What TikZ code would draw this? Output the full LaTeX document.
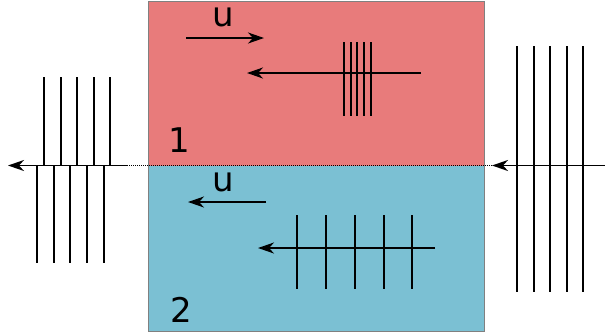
\documentclass[tikz,border=0pt]{standalone}
\usepackage{fontspec}
\setmainfont{DejaVu Sans}
\usetikzlibrary{arrows.meta}
\definecolor{upred}{RGB}{232,123,123}
\definecolor{lowblue}{RGB}{123,192,211}
\begin{document}
\begin{tikzpicture}[x=1pt,y=-1pt,
  ln/.style={line width=1.8pt,black},
  arr/.style={line width=1.8pt,black,-{Stealth[length=16pt,width=11pt,inset=5pt]}},
  lbl/.style={anchor=base,inner sep=0pt,font=\fontsize{34}{40}\selectfont}]
\useasboundingbox (0,0) rectangle (605,333);
% regions
\fill[upred] (148,1) rectangle (484,165.5);
\fill[lowblue] (148,165.5) rectangle (484,331);
\draw[gray,line width=1pt] (148,1) rectangle (484,331);
% interface dotted line
\coordinate (dl) at (127,165.5);
\coordinate (dr) at (492,165.5);
\draw[black,line width=1pt,dash pattern=on 1pt off 1pt] (dl) -- (dr);
% labels
\node[lbl] (u1) at (223,26) {u};
\node[lbl] (u2) at (223,191) {u};
\node[lbl] (n1) at (179.5,152) {1};
\node[lbl] (n2) at (181.5,322) {2};
% velocity arrows
\coordinate (a1s) at (186,38); \coordinate (a1e) at (264,38);
\draw[arr] (a1s) -- (a1e);
\coordinate (a2s) at (266,202); \coordinate (a2e) at (188,202);
\draw[arr] (a2s) -- (a2e);
% top wave
\coordinate (b1s) at (421,73); \coordinate (b1e) at (247,73);
\draw[arr] (b1s) -- (b1e);
\foreach \x in {344,351,357,364,371} \draw[ln] (\x,42) -- (\x,116);
% bottom wave
\coordinate (b2s) at (435,248); \coordinate (b2e) at (258,248);
\draw[arr] (b2s) -- (b2e);
\foreach \x in {297,326,355,384,412} \draw[ln] (\x,215) -- (\x,289);
% left (reflected / transmitted) wave
\coordinate (ls) at (127,165.5); \coordinate (le) at (8,165.5);
\draw[arr] (ls) -- (le);
\foreach \x in {44,61,77,94,110} \draw[ln] (\x,77) -- (\x,165.5);
\foreach \x in {37,54,70,87,104} \draw[ln] (\x,165.5) -- (\x,263);
% right incident wave
\coordinate (rs) at (605,165.5); \coordinate (re) at (492,165.5);
\draw[arr] (rs) -- (re);
\foreach \x in {517,534,550,567,583} \draw[ln] (\x,46) -- (\x,292);
\end{tikzpicture}
\end{document}
